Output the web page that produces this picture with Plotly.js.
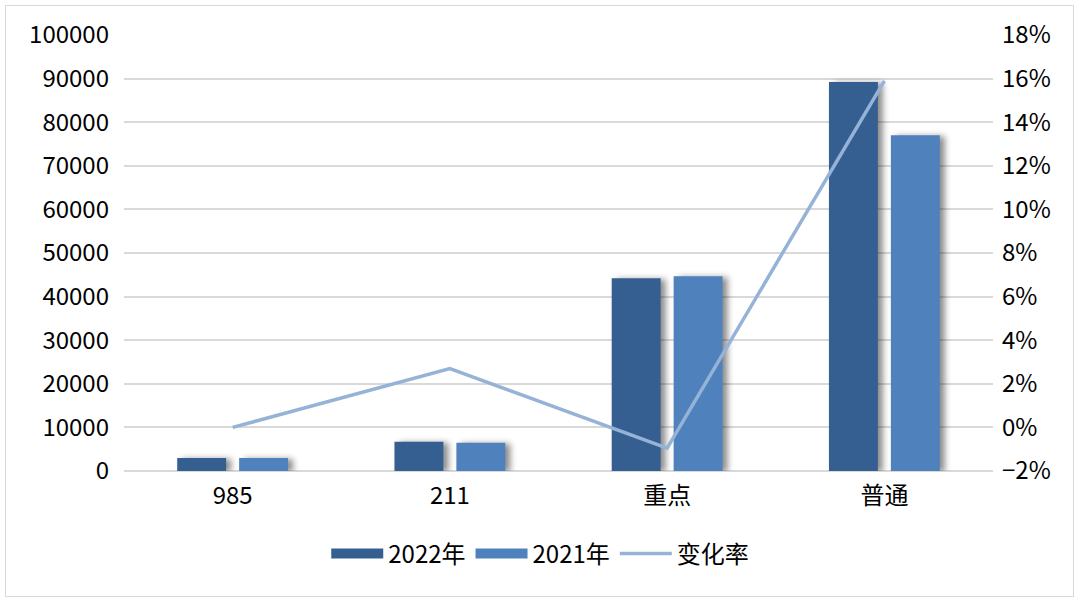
<!DOCTYPE html>
<html>
<head>
<meta charset="utf-8">
<script src="https://cdn.plot.ly/plotly-3.0.1.min.js"></script>
<style>
  body { margin: 0; background: #fff; }
  #plot { position: absolute; left: 5px; top: 5px; width: 1067px; height: 590px; border: 1px solid #d9d9d9; }
  /* soft shadow to the right of each bar, like the office chart */
  #plot .barlayer .point path { filter: drop-shadow(5px 1px 3px rgba(0, 0, 0, 0.45)); }
</style>
</head>
<body>
<div id="plot"></div>
<script>
// categories and values
var categories = ["985", "211", "重点", "普通"];
var values2022 = [3000, 6700, 44200, 89200];
var values2021 = [3000, 6500, 44650, 77000];
var changeRate = [0.0, 2.7, -0.95, 15.9];   // percent

var seriesNames = ["2022年", "2021年", "变化率"];
var seriesColors = ["#365f91", "#4f81bd", "#95b3d7"];

var font = "'Noto Sans CJK SC', 'Noto Sans', sans-serif";

var trace2022 = {
  x: categories,
  y: values2022,
  name: seriesNames[0],
  type: "bar",
  showlegend: false,
  marker: { color: seriesColors[0] }
};

var trace2021 = {
  x: categories,
  y: values2021,
  name: seriesNames[1],
  type: "bar",
  showlegend: false,
  marker: { color: seriesColors[1] }
};

var traceRate = {
  x: categories,
  y: changeRate,
  name: seriesNames[2],
  type: "scatter",
  mode: "lines",
  yaxis: "y2",
  showlegend: false,
  line: { color: seriesColors[2], width: 3.5 }
};

// legend-only entries so the swatches can be wide bars like the original
var legendTraces = seriesNames.map(function (name, i) {
  return {
    x: [null],
    y: [null],
    name: name,
    type: "scatter",
    mode: "lines",
    hoverinfo: "skip",
    line: { color: seriesColors[i], width: i < 2 ? 15 : 3.5 }
  };
});

var layout = {
  width: 1067,
  height: 590,
  margin: { l: 118, r: 80, t: 29, b: 125 },
  font: { family: font, size: 24, color: "#000" },
  paper_bgcolor: "#fff",
  plot_bgcolor: "#fff",
  barmode: "group",
  bargap: 0.43,
  bargroupgap: 0.21,
  showlegend: true,
  legend: {
    orientation: "h",
    x: 0.479,
    xanchor: "center",
    y: -0.19,
    yanchor: "middle",
    itemwidth: 52,
    font: { family: font, size: 24 },
    traceorder: "normal"
  },
  xaxis: {
    type: "category",
    showgrid: false,
    showline: false,
    ticks: "",
    ticklabelstandoff: 8,
    tickfont: { size: 24 }
  },
  yaxis: {
    range: [0, 100000],
    dtick: 10000,
    showgrid: true,
    gridcolor: "#d9d9d9",
    gridwidth: 1.5,
    zeroline: true,
    zerolinecolor: "#d9d9d9",
    zerolinewidth: 1.5,
    tickformat: "d",
    ticks: "",
    ticklabelstandoff: 14,
    tickfont: { size: 24 }
  },
  yaxis2: {
    overlaying: "y",
    side: "right",
    range: [-2, 18],
    dtick: 2,
    ticksuffix: "%",
    showgrid: false,
    zeroline: false,
    ticks: "",
    ticklabelstandoff: 8,
    tickfont: { size: 24 }
  }
};

Plotly.newPlot("plot", [trace2022, trace2021, traceRate].concat(legendTraces), layout, { displayModeBar: false });
</script>
</body>
</html>
